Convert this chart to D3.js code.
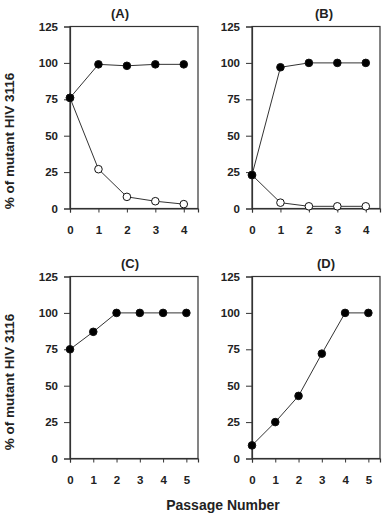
<!DOCTYPE html>
<html>
<head>
<meta charset="utf-8">
<script src="https://cdn.jsdelivr.net/npm/d3@7"></script>
<style>
  body { margin: 0; background: #fff; }
  text { font-family: "Liberation Sans", Arial, Helvetica, sans-serif; font-weight: bold; fill: #222; }
</style>
</head>
<body>
<svg width="382" height="516"></svg>
<script>
// values (% of mutant HIV 3116 per passage)
const passagesAB = [0, 1, 2, 3, 4];
const passagesCD = [0, 1, 2, 3, 4, 5];
const filledA = [76, 99, 98, 99, 99];
const openA = [76, 27, 8, 5, 3];
const filledB = [23, 97, 100, 100, 100];
const openB = [23, 4, 1.5, 1.5, 1.5];
const filledC = [75, 87, 100, 100, 100, 100];
const filledD = [9, 25, 43, 72, 100, 100];
const yTicks = [0, 25, 50, 75, 100, 125];

const svg = d3.select('svg');

const panels = [
  { label: '(A)', left: 70, top: 26.5, xs: passagesAB, series: [filledA, openA], xMax: 4.5, titleX: 120, labelY: 141 },
  { label: '(B)', left: 252, top: 26.5, xs: passagesAB, series: [filledB, openB], xMax: 4.5, titleX: 324, labelY: null },
  { label: '(C)', left: 70, top: 276.5, xs: passagesCD, series: [filledC], xMax: 5.5, titleX: 130, labelY: 382 },
  { label: '(D)', left: 252, top: 276.5, xs: passagesCD, series: [filledD], xMax: 5.5, titleX: 326, labelY: null },
];

const w = 128;
const h = 182;

panels.forEach(p => {
  const g = svg.append('g').attr('transform', `translate(${p.left},${p.top})`);

  const x = d3.scaleLinear().domain([0, p.xMax]).range([0, w]);
  const y = d3.scaleLinear().domain([0, 125]).range([h, 0]);

  // frame
  g.append('rect')
    .attr('width', w)
    .attr('height', h)
    .attr('fill', 'none')
    .attr('stroke', '#333')
    .attr('stroke-width', 1.2);

  const yAxis = g.append('g')
    .call(d3.axisLeft(y).tickValues(yTicks).tickSize(6).tickPadding(6));
  const xAxis = g.append('g')
    .attr('transform', `translate(0,${h})`)
    .call(d3.axisBottom(x).tickValues(p.xs).tickFormat(d3.format('d')).tickSize(4).tickPadding(13));

  [yAxis, xAxis].forEach(a => {
    a.select('.domain').attr('stroke', '#333').attr('stroke-width', 1.2);
    a.selectAll('.tick line').attr('stroke', '#333');
    a.selectAll('text')
      .style('font-size', '11.5px')
      .style('font-family', '"Liberation Sans", Arial, sans-serif')
      .style('font-weight', 'bold')
      .attr('fill', '#222');
  });

  svg.append('text')
    .attr('x', p.titleX)
    .attr('y', p.top - 9)
    .attr('text-anchor', 'middle')
    .style('font-size', '13px')
    .text(p.label);

  if (p.labelY !== null) {
    svg.append('text')
      .attr('transform', `translate(14,${p.labelY}) rotate(-90)`)
      .attr('text-anchor', 'middle')
      .style('font-size', '13.5px')
      .text('% of mutant HIV 3116');
  }

  const line = d3.line()
    .x((d, i) => x(p.xs[i]))
    .y(d => y(d));

  // open series drawn first so the filled one sits on top at the shared start point
  const order = p.series.slice().reverse();
  order.forEach(vals => {
    const isOpen = vals === openA || vals === openB;
    g.append('path')
      .datum(vals)
      .attr('d', line)
      .attr('fill', 'none')
      .attr('stroke', '#333')
      .attr('stroke-width', 1);

    g.selectAll(null)
      .data(vals)
      .enter().append('circle')
      .attr('cx', (d, i) => x(p.xs[i]))
      .attr('cy', d => y(d))
      .attr('r', 3.8)
      .attr('fill', isOpen ? '#fff' : '#000')
      .attr('stroke', '#111')
      .attr('stroke-width', 1);
  });
});

svg.append('text')
  .attr('x', 223)
  .attr('y', 510)
  .attr('text-anchor', 'middle')
  .style('font-size', '14px')
  .text('Passage Number');
</script>
</body>
</html>
